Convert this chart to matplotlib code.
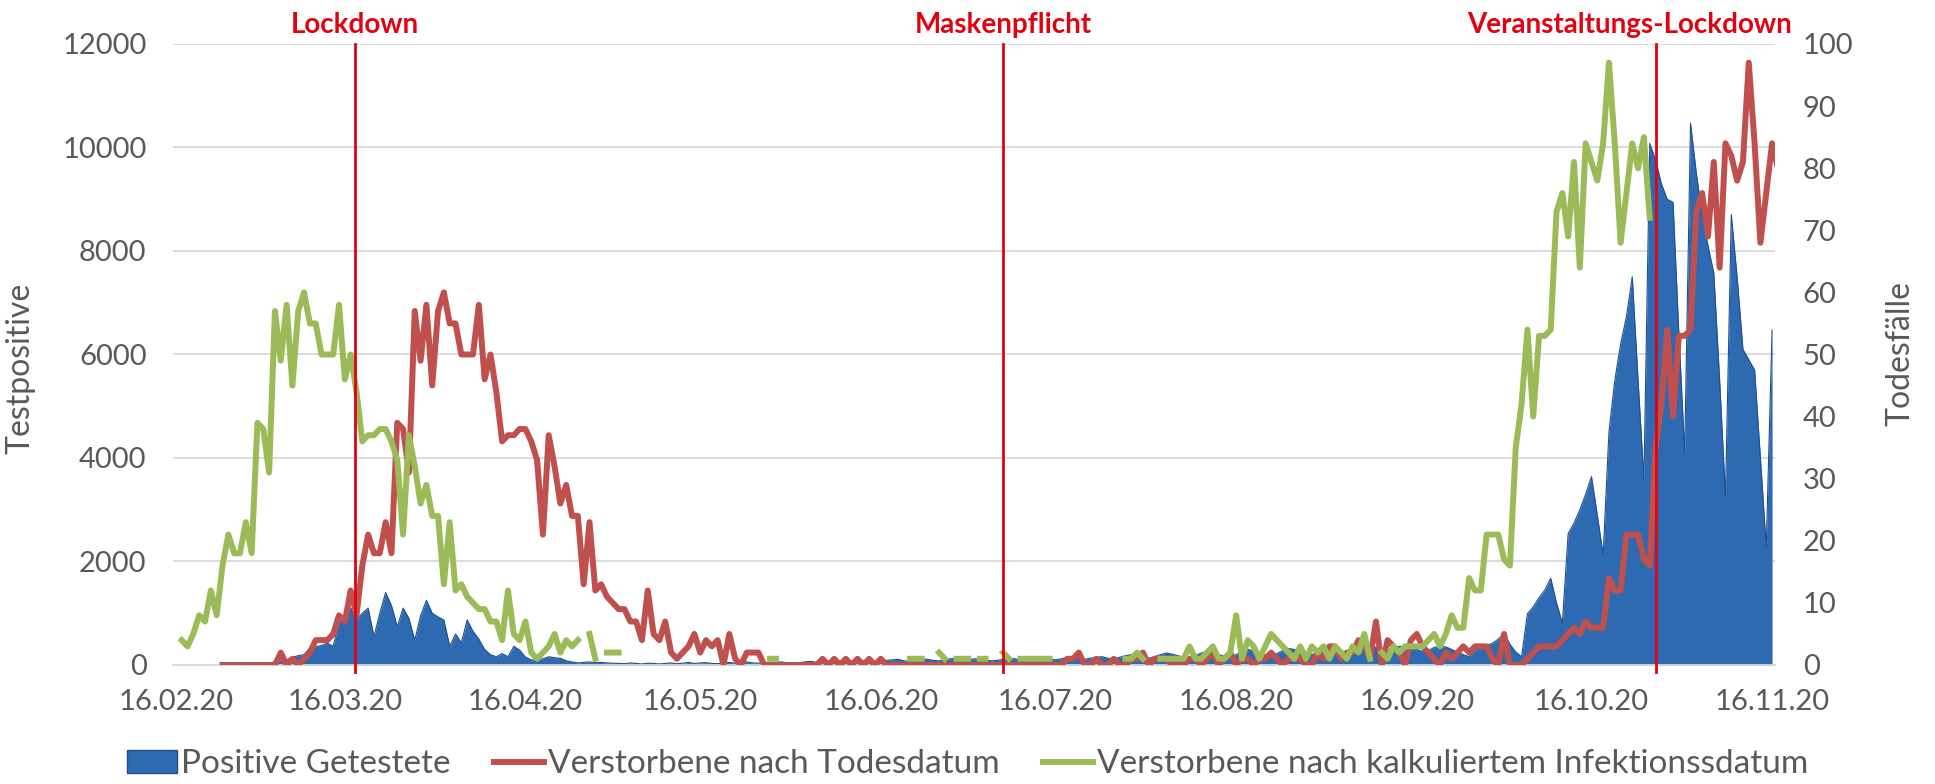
import matplotlib.pyplot as plt
import matplotlib.dates as mdates
from matplotlib.patches import Patch
from matplotlib.lines import Line2D
import numpy as np
import pandas as pd

plt.rcParams['font.family'] = ['Lato', 'DejaVu Sans']

nan = np.nan

# Positive Getestete (daily, left axis), from 25.02.20
pos_start = "2020-02-25"
positive = [
    2, 3, 5, 8, 10, 15, 30, 40, 60, 80, 100, 150, 180,
    200, 330, 350, 380, 420, 360,
    830, 950, 1100, 880, 1000, 1100, 550, 1000, 1400, 1150, 740, 1100, 900, 480,
    950, 1250, 1000, 930, 870, 360, 600, 430, 870, 650, 500, 300, 200, 160, 220,
    160, 360, 290, 150, 100,
    90, 120, 160, 140, 130, 80, 60, 40, 50, 60, 45, 50, 40, 35, 30, 25, 40, 30,
    20, 35, 30, 20,
    30, 40, 25, 35, 50, 30, 40, 45, 30, 25, 40, 50, 35, 30, 60, 40, 35,
    40, 30, 50, 60, 40, 30, 45, 60, 70, 50, 40, 60, 70, 80, 60, 50, 70, 80, 90, 60,
    70, 90, 100, 110, 80, 70, 100, 120, 110, 90, 80, 110, 120, 130, 100, 90, 120,
    110, 100, 80,
    90, 110, 130, 120, 100, 90, 110, 140, 130, 110, 100, 120, 140, 150, 130, 110,
    130, 150, 160, 130,
    120, 150, 180, 200, 170, 140, 130,
    160, 200, 230, 210, 180, 150, 140,
    180, 230, 260, 240, 200, 170, 160,
    200, 260, 300, 280, 240, 190, 180,
    220, 280, 320, 300, 260, 220, 200,
    250, 310, 350, 330,
    280, 240, 230, 280, 350, 380, 340,
    290, 260, 300, 360, 350, 330, 300,
    260, 280, 340, 360, 350, 300, 250,
    200, 160, 280, 350, 380,
    420, 500, 610, 400, 250, 160, 990, 1125, 1300, 1450, 1675, 1200, 810, 2540,
    2740, 3000, 3300, 3640, 2900, 2125, 4500, 5500, 6200, 6730, 7500, 5500, 3575,
    10080, 9760, 9300, 9000, 8940, 6400, 4100, 10470, 9500, 8700, 8100, 7570, 5500,
    3250, 8700, 7500, 6100, 5900, 5700, 4000, 2285, 6470,
]

# Verstorbene nach Todesdatum (right axis), from 24.02.20
red_start = "2020-02-24"
deaths_by_date = [
    0, 0, 0, 0, 0, 0, 0, 0, 0, 0,
    2, 0, 1, 0, 1, 2, 4,
    4, 4, 5, 8, 7, 12, 8, 16, 21, 18, 18, 23, 18, 39, 38, 31,
    57, 49, 58, 45, 57, 60, 55, 55, 50, 50, 50, 58, 46, 50, 44,
    36, 37, 37, 38, 38, 36, 33, 21, 37, 32, 26, 29, 24, 24, 13, 23, 12, 13, 11, 10,
    9, 9, 7, 7, 4, 12, 5, 4, 7,
    2, 1, 2, 3, 5, 2, 4, 3, 4, 0, 5, 1, 0, 2, 2, 2, 0,
    0, 0, 0, 0, 0, 0, 0, 0, 0,
    1, 0, 1, 0, 1, 0, 1, 0, 1, 0, 1,
    0, 0, 0, 0, 0, 0, 0, 0, 0, 0, 0, 0, 0, 0, 0, 0, 0, 0, 0, 0, 0, 0, 0, 0, 0, 0,
    0, 0, 0, 0, 0,
    1, 1, 2, 0, 0, 1, 0, 0, 1, 0,
    0, 1, 1, 2, 0, 1, 1, 1, 0, 0,
    0, 1, 1, 0, 1, 2, 0, 1, 2, 0,
    1, 1, 0, 1, 1, 2, 1, 0, 1, 1,
    1, 0, 0, 2, 1, 3, 3,
    1, 2, 2, 4, 3, 1, 7, 0, 4, 3, 2, 0, 4, 5, 3, 2, 1, 0, 2, 1, 2, 3, 2, 3, 3,
    3, 1, 0, 5, 0, 0, 0, 1, 2, 3, 3, 3, 3, 4, 5, 6, 5, 7, 6, 6, 6,
    14, 12, 12, 21, 21, 21, 17, 16, 35, 42, 54, 40, 53, 53, 54, 73, 76, 69, 81,
    64, 84, 82, 78, 81, 97, 84, 68, 76, 84, 80,
]

# Verstorbene nach kalkuliertem Infektionsdatum (right axis), from 17.02.20
green_start = "2020-02-17"
deaths_by_infection = [
    4, 3, 5, 8, 7, 12, 8, 16, 21, 18, 18, 23, 18, 39, 38, 31,
    57, 49, 58, 45, 57, 60, 55, 55, 50, 50, 50, 58, 46, 50, 44,
    36, 37, 37, 38, 38, 36, 33, 21, 37, 32, 26, 29, 24, 24, 13, 23, 12, 13, 11, 10,
    9, 9, 7, 7, 4, 12, 5, 4, 7,
    2, 1, 2, 3, 5, 2, 4, 3, 4, nan, 5, 1, nan, 2, 2, 2, nan,
    nan, nan, nan, nan, nan, nan, nan, nan, nan, nan, nan, nan,
    nan, nan, nan, nan, nan, nan, nan, nan, nan, nan, nan, nan,
    1, 1,
    nan, nan, nan, nan, nan, nan, nan, nan, nan, nan, nan,
    nan, nan, nan, nan, nan, nan, nan, nan, nan, nan, nan,
    1, 1, 1, nan, nan, 2, 1, nan, 1, 1, 1, nan, 1, 1, nan, nan, 2, 1, nan,
    1, 1, 1, 1, 1, 1,
    nan, nan, nan, nan, nan, nan, nan, nan, nan, nan, nan, nan,
    1, 1, 2, 1, nan, nan,
    1, 1, 1, 1, 1, 3, 1, 1, 2, 3,
    1, 1, 2, 8, 1, 4, 3, 1, 3, 5,
    4, 3, 2, 1, 3, 1, 3, 2, 3, 1,
    3,
    2, 1, 3, 2, 5, 1, nan, 2, 1, 3,
    2, 3, 3, 3, 3, 4, 5, 3, 5, 8,
    6, 6, 14, 12, 12, 21, 21, 21, 17, 16,
    35, 42, 54, 40, 53, 53, 54, 73, 76, 69, 81, 64, 84, 81, 78, 84, 97, 84, 68,
    76, 84, 80, 85, 72,
]

events = ["Lockdown", "Maskenpflicht", "Veranstaltungs-Lockdown"]
event_dates = ["2020-03-17 18:00", "2020-07-07", "2020-10-27"]
label_shift = [0, 0, -19]  # points, text is nudged left at the right edge

blue = '#2E6AB1'
red = '#C0504D'
green = '#9BBB59'
event_red = '#E3000F'
grey = '#595959'

pos_x = pd.date_range(pos_start, periods=len(positive), freq='D')
red_x = pd.date_range(red_start, periods=len(deaths_by_date), freq='D')
green_x = pd.date_range(green_start, periods=len(deaths_by_infection), freq='D')

fig = plt.figure(figsize=(19.35, 7.84), dpi=100)
ax = fig.add_axes([0.0894, 0.1518, 0.8279, 0.7921])
ax2 = ax.twinx()

ax.fill_between(pos_x, positive, color=blue, lw=0)
ax.plot(pos_x, positive, color='#1F4F8F', lw=0.8)

ax2.plot(red_x, deaths_by_date, color=red, lw=4.3, solid_joinstyle='round')
ax2.plot(green_x, deaths_by_infection, color=green, lw=4.3, solid_joinstyle='round')

for name, d, dx in zip(events, event_dates, label_shift):
    d = pd.Timestamp(d)
    ax2.axvline(d, ymin=-0.012, ymax=1, color=event_red, lw=2, clip_on=False, zorder=5)
    ax2.annotate(name, xy=(d, 1), xycoords=('data', 'axes fraction'),
                 xytext=(dx, 8), textcoords='offset points', ha='center',
                 va='baseline', fontsize=20, fontweight='bold', color=event_red)

ax.set_xlim(pd.Timestamp("2020-02-15 12:00"), pd.Timestamp("2020-11-16 12:00"))
ax.set_ylim(0, 12000)
ax2.set_ylim(0, 100)
ax.set_yticks(range(0, 12001, 2000))
ax2.set_yticks(range(0, 101, 10))
ax.xaxis.set_major_locator(mdates.MonthLocator(bymonthday=16))
ax.xaxis.set_major_formatter(mdates.DateFormatter('%d.%m.%y'))

ax.grid(axis='y', color='#D9D9D9', lw=1.3)
ax.set_axisbelow(True)
for a in (ax, ax2):
    for s in a.spines.values():
        s.set_visible(False)
ax.spines['bottom'].set_visible(True)
ax.spines['bottom'].set_color('#D9D9D9')
ax.spines['bottom'].set_linewidth(1.3)

ax.tick_params(axis='both', length=0, labelsize=21, colors=grey)
ax.tick_params(axis='y', pad=19)
ax.tick_params(axis='x', pad=17)
ax2.tick_params(axis='y', length=0, labelsize=21, colors=grey, pad=20)

ax.set_ylabel('Testpositive', fontsize=23, color=grey)
ax.yaxis.set_label_coords(-0.086, 0.477)
ax2.set_ylabel('Todesfälle', fontsize=23, color=grey)
ax2.yaxis.set_label_coords(1.069, 0.502)

handles = [Patch(facecolor=blue, edgecolor='#1F4F8F'),
           Line2D([], [], color=red, lw=4.3),
           Line2D([], [], color=green, lw=4.3)]
labels = ['Positive Getestete', 'Verstorbene nach Todesdatum',
          'Verstorbene nach kalkuliertem Infektionssdatum']
fig.legend(handles, labels, loc='center', bbox_to_anchor=(0.5, 0.025), ncol=3,
           frameon=False, fontsize=24, handlelength=1.5, handletextpad=0.12,
           columnspacing=1.3, labelcolor=grey)

fig.savefig('out.png', dpi=100)
